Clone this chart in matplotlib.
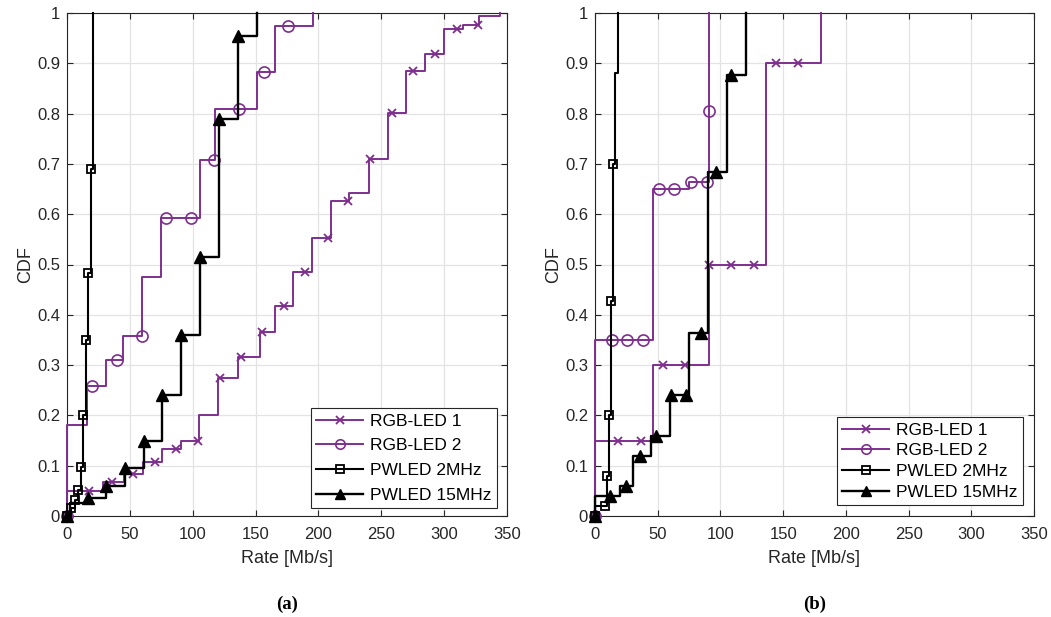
import matplotlib
matplotlib.use("Agg")
import matplotlib.pyplot as plt
from matplotlib.lines import Line2D

plt.rcParams['font.family'] = ['Liberation Sans', 'DejaVu Sans']

# ---------------- data: panel (a) ----------------
a_rgb1_step_x = [0, 0, 28.9, 45.3, 60.7, 75.3, 90.4, 105.3, 120.4, 136.3, 153.5, 165.5, 180, 195,
                 210, 224.7, 240, 255.2, 269.8, 284.6, 299.5, 314.9, 328, 344.8]
a_rgb1_step_y = [0, 0.05, 0.0676, 0.0835, 0.108, 0.1325, 0.15, 0.2, 0.275, 0.317, 0.366, 0.4175, 0.4846,
                 0.5517, 0.626, 0.643, 0.709, 0.8007, 0.8846, 0.918, 0.968, 0.976, 0.995, 1.0]
a_rgb1_mark_x = [0, 17.8, 35.5, 52.8, 70, 86.7, 104, 121.7, 138.4, 155.4, 172.6, 189.7, 207.4,
                 223.9, 241.1, 258.6, 275.6, 292.8, 310.6, 327.3]
a_rgb1_mark_y = [0, 0.05, 0.0676, 0.0835, 0.108, 0.1325, 0.15, 0.275, 0.317, 0.366, 0.4175, 0.4846,
                 0.5517, 0.626, 0.709, 0.8007, 0.8846, 0.918, 0.968, 0.976]

a_rgb2_step_x = [0, 0, 16, 31, 44.7, 60, 75, 106, 118, 151, 165.5, 196]
a_rgb2_step_y = [0, 0.18, 0.258, 0.31, 0.358, 0.475, 0.592, 0.708, 0.81, 0.883, 0.975, 1.0]
a_rgb2_mark_x = [0, 20, 40, 59.6, 78.8, 98.4, 117, 136.8, 156.7, 175.8]
a_rgb2_mark_y = [0, 0.258, 0.31, 0.358, 0.592, 0.592, 0.708, 0.81, 0.883, 0.975]

a_pw2_step_x = [0, 3.5, 6.2, 8.8, 11.0, 13.0, 15.1, 16.8, 19.0, 20.9]
a_pw2_step_y = [0, 0.015, 0.032, 0.052, 0.097, 0.2, 0.35, 0.483, 0.689, 1.0]
a_pw2_mark_x = [0, 3.5, 6.2, 8.8, 11.0, 13.0, 15.1, 16.8, 19.0]
a_pw2_mark_y = [0, 0.015, 0.032, 0.052, 0.097, 0.2, 0.35, 0.483, 0.689]

a_pw15_step_x = [0, 2, 16.4, 31, 46.1, 61.3, 75.8, 91, 105.8, 120.9, 135.8, 150.9]
a_pw15_step_y = [0, 0.025, 0.035, 0.06, 0.095, 0.15, 0.24, 0.36, 0.515, 0.79, 0.955, 1.0]
a_pw15_mark_x = [0, 16.4, 31, 46.1, 61.3, 75.8, 91, 105.8, 120.9, 135.8]
a_pw15_mark_y = [0, 0.035, 0.06, 0.095, 0.15, 0.24, 0.36, 0.515, 0.79, 0.955]

# ---------------- data: panel (b) ----------------
b_rgb1_step_x = [0, 0, 45.9, 90.7, 136, 180.2]
b_rgb1_step_y = [0, 0.15, 0.30, 0.50, 0.90, 1.0]
b_rgb1_mark_x = [0, 18.1, 36.5, 54.1, 72, 91.2, 108.5, 126.7, 144.5, 162.1]
b_rgb1_mark_y = [0, 0.15, 0.15, 0.30, 0.30, 0.50, 0.50, 0.50, 0.90, 0.90]

b_rgb2_step_x = [0, 0, 45.9, 75.2, 90.7]
b_rgb2_step_y = [0, 0.35, 0.65, 0.665, 1.0]
b_rgb2_mark_x = [0, 13.3, 25.3, 37.9, 50.7, 63.2, 76.3, 89.1, 91.2]
b_rgb2_mark_y = [0, 0.35, 0.35, 0.35, 0.65, 0.65, 0.665, 0.665, 0.806]

b_pw2_step_x = [0, 0, 9.8, 11.2, 12.6, 14.5, 16.2, 18.3]
b_pw2_step_y = [0, 0.02, 0.08, 0.2, 0.428, 0.70, 0.88, 1.0]
b_pw2_mark_x = [0, 7.6, 9.8, 11.2, 12.6, 14.5]
b_pw2_mark_y = [0, 0.02, 0.08, 0.2, 0.428, 0.70]

b_pw15_step_x = [0, 0, 19.7, 30.3, 44.9, 59.8, 75.2, 90.1, 105.3, 120.5]
b_pw15_step_y = [0, 0.04, 0.06, 0.12, 0.16, 0.24, 0.364, 0.683, 0.876, 1.0]
b_pw15_mark_x = [0, 12.3, 24.5, 36.2, 48.4, 60.5, 72.5, 84.5, 96.8, 108.8]
b_pw15_mark_y = [0, 0.04, 0.06, 0.12, 0.16, 0.24, 0.24, 0.364, 0.683, 0.876]

labels = ['RGB-LED 1', 'RGB-LED 2', 'PWLED 2MHz', 'PWLED 15MHz']
x_ticks = [0, 50, 100, 150, 200, 250, 300, 350]
y_ticks = [0, 0.1, 0.2, 0.3, 0.4, 0.5, 0.6, 0.7, 0.8, 0.9, 1.0]
y_ticklabels = ['0', '0.1', '0.2', '0.3', '0.4', '0.5', '0.6', '0.7', '0.8', '0.9', '1']

PURPLE = '#7E2F8E'
BLACK = '#000000'
AXC = '#262626'

styles = [
    dict(color=PURPLE, lw=1.4, marker='x', ms=6, mfc='none', mew=1.3),
    dict(color=PURPLE, lw=1.4, marker='o', ms=8, mfc='none', mew=1.2),
    dict(color=BLACK, lw=1.5, marker='s', ms=6, mfc='none', mew=1.3),
    dict(color=BLACK, lw=1.7, marker='^', ms=9, mfc=BLACK, mew=1.0),
]

fig = plt.figure(figsize=(10.51, 6.17), dpi=100)
ax_a = fig.add_axes([67 / 1051, (617 - 516) / 617, 440 / 1051, 503 / 617])
ax_b = fig.add_axes([595 / 1051, (617 - 516) / 617, 439 / 1051, 503 / 617])

panel_data = [
    [(a_rgb1_step_x, a_rgb1_step_y, a_rgb1_mark_x, a_rgb1_mark_y),
     (a_rgb2_step_x, a_rgb2_step_y, a_rgb2_mark_x, a_rgb2_mark_y),
     (a_pw2_step_x, a_pw2_step_y, a_pw2_mark_x, a_pw2_mark_y),
     (a_pw15_step_x, a_pw15_step_y, a_pw15_mark_x, a_pw15_mark_y)],
    [(b_rgb1_step_x, b_rgb1_step_y, b_rgb1_mark_x, b_rgb1_mark_y),
     (b_rgb2_step_x, b_rgb2_step_y, b_rgb2_mark_x, b_rgb2_mark_y),
     (b_pw2_step_x, b_pw2_step_y, b_pw2_mark_x, b_pw2_mark_y),
     (b_pw15_step_x, b_pw15_step_y, b_pw15_mark_x, b_pw15_mark_y)],
]

legend_cfg = [dict(anchor=(0.977, 0.016), spacing=0.55), dict(anchor=(0.975, 0.022), spacing=0.32)]

for ax, series, tag, lcfg in zip([ax_a, ax_b], panel_data, ['(a)', '(b)'], legend_cfg):
    handles = []
    for i, ((sx, sy, mx, my), st) in enumerate(zip(series, styles)):
        z = 3 + i
        ax.step(sx, sy, where='post', color=st['color'], lw=st['lw'], zorder=z, clip_on=False)
        ax.plot(mx, my, linestyle='none', marker=st['marker'], ms=st['ms'], mfc=st['mfc'],
                mec=st['color'], mew=st['mew'], zorder=z + 0.5, clip_on=False)
        handles.append(Line2D([], [], color=st['color'], lw=st['lw'], marker=st['marker'],
                              ms=st['ms'] * 0.85, mfc=st['mfc'], mec=st['color'], mew=st['mew']))
    ax.set_xlim(0, 350)
    ax.set_ylim(0, 1)
    ax.set_xticks(x_ticks)
    ax.set_xticklabels([str(v) for v in x_ticks])
    ax.set_yticks(y_ticks)
    ax.set_yticklabels(y_ticklabels)
    ax.grid(True, color='#e3e3e3', lw=0.9, zorder=0)
    ax.set_axisbelow(True)
    ax.tick_params(direction='in', length=4, width=0.8, colors=AXC, labelsize=12,
                   top=True, right=True, labelcolor='#262626')
    ax.tick_params(axis='x', pad=8)
    ax.tick_params(axis='y', pad=5)
    for sp in ax.spines.values():
        sp.set_color(AXC)
        sp.set_linewidth(0.8)
    ax.set_xlabel('Rate [Mb/s]', fontsize=13, color='#262626', labelpad=6)
    ax.set_ylabel('CDF', fontsize=13, color='#262626', labelpad=2)
    leg = ax.legend(handles, labels, loc='lower right', bbox_to_anchor=lcfg['anchor'],
                    fontsize=12.5, frameon=True, fancybox=False, edgecolor=AXC,
                    framealpha=1, handlelength=2.7, handletextpad=0.4,
                    labelspacing=lcfg['spacing'], borderpad=0.3, borderaxespad=0)
    leg.get_frame().set_linewidth(0.8)
    leg.set_zorder(20)
    ax.text(0.5, -0.176, tag, transform=ax.transAxes, ha='center', va='center',
            fontsize=13.5, fontweight='bold', family=['Liberation Serif', 'DejaVu Serif'])

fig.savefig('out.png', dpi=100)
